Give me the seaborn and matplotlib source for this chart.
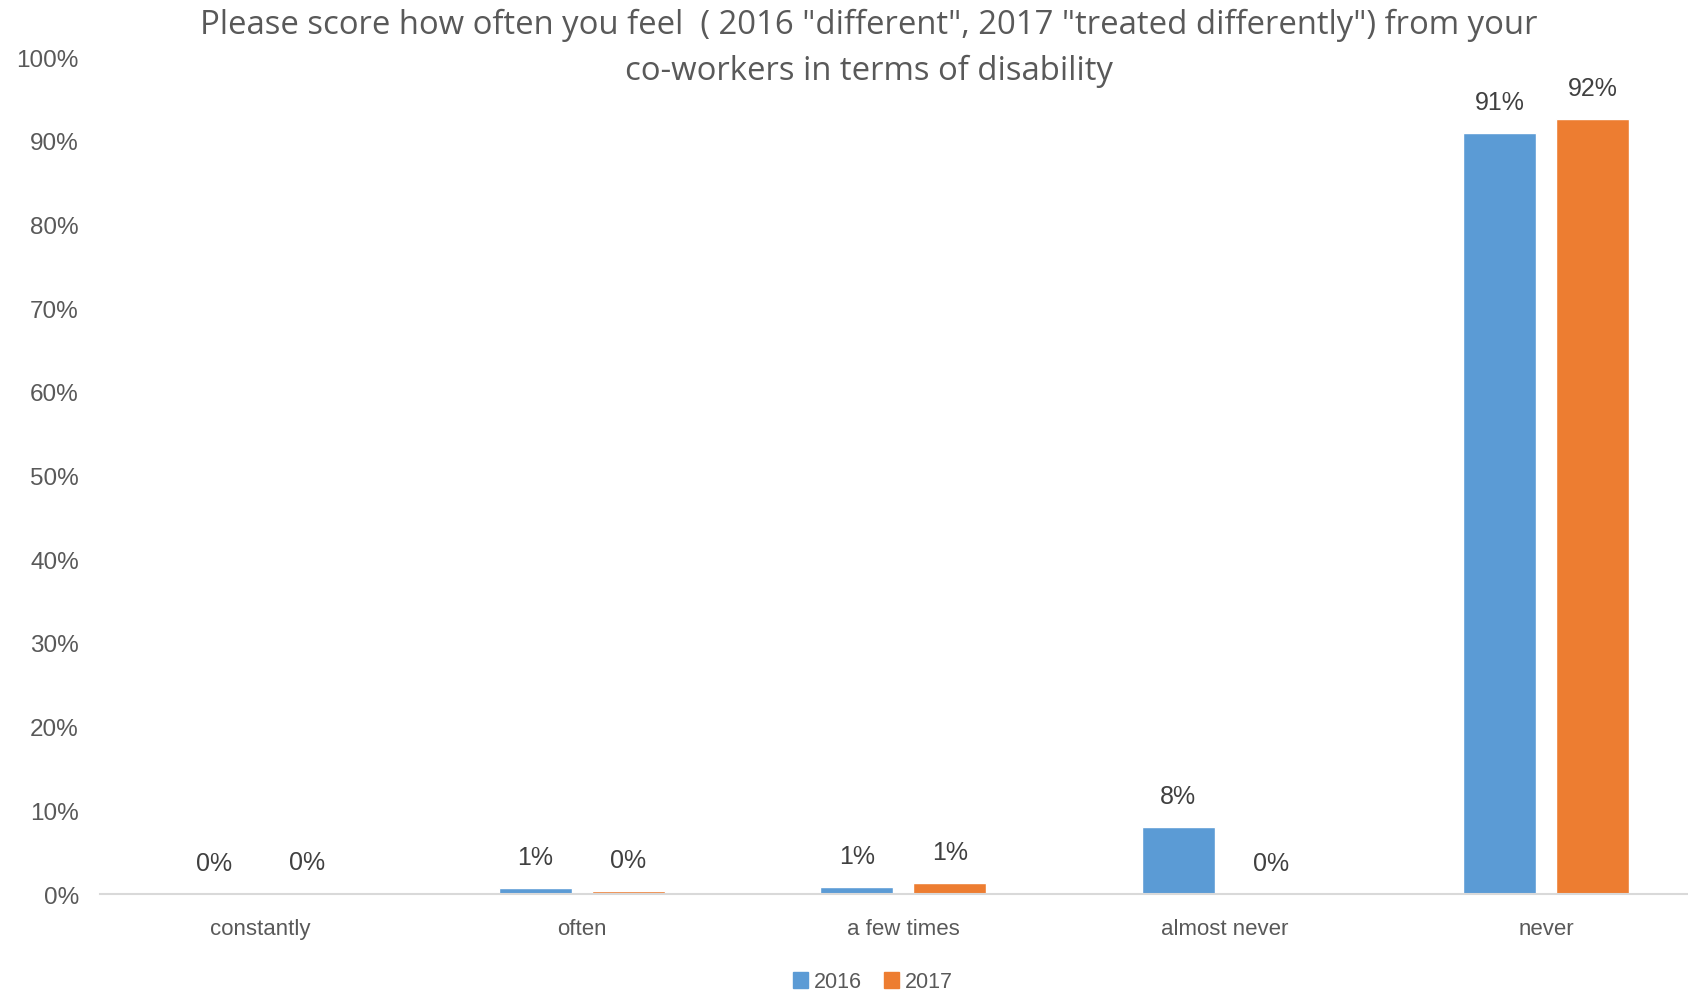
import matplotlib
matplotlib.use("Agg")
import matplotlib.pyplot as plt
import seaborn as sns
import pandas as pd

categories = ["constantly", "often", "a few times", "almost never", "never"]
years = ["2016", "2017"]
values_2016 = [0.0, 0.7, 0.8, 8.0, 90.9]
values_2017 = [0.1, 0.3, 1.3, 0.0, 92.6]
labels_2016 = ["0%", "1%", "1%", "8%", "91%"]
labels_2017 = ["0%", "0%", "1%", "0%", "92%"]
title = 'Please score how often you feel  ( 2016 "different", 2017 "treated differently") from your\nco-workers in terms of disability'
yticks = [0, 10, 20, 30, 40, 50, 60, 70, 80, 90, 100]

df = pd.DataFrame({
    "category": categories * 2,
    "year": [years[0]] * len(categories) + [years[1]] * len(categories),
    "value": values_2016 + values_2017,
})

sns.set_theme(style="white")
plt.rcParams["font.family"] = ["Liberation Sans", "DejaVu Sans"]

palette = {"2016": "#5B9BD5", "2017": "#ED7D31"}
text_grey = "#595959"

fig = plt.figure(figsize=(16.88, 9.95), dpi=100)
ax = fig.add_axes([0.0591, 0.1005, 0.952, 0.8412])

sns.barplot(data=df, x="category", y="value", hue="year", order=categories,
            hue_order=years, palette=palette, width=0.578, gap=0.215,
            saturation=1, ax=ax, legend=False)

ax.set_xlim(-0.5, 4.5)
ax.set_ylim(0, 100)
ax.set_yticks(yticks)
ax.set_yticklabels([f"{t}%" for t in yticks], fontsize=17.5, color=text_grey)
ax.tick_params(axis="x", labelsize=16, labelcolor=text_grey, length=0, pad=17)
ax.tick_params(axis="y", length=0, pad=15)
ax.set_xlabel("")
ax.set_ylabel("")
for side in ["top", "right", "left"]:
    ax.spines[side].set_visible(False)
ax.spines["bottom"].set_color("#D9D9D9")
ax.spines["bottom"].set_linewidth(1.5)

for container, labels in zip(ax.containers, [labels_2016, labels_2017]):
    ax.bar_label(container, labels=labels, padding=14, fontsize=18, color="#404040")

handles = [plt.Rectangle((0, 0), 1, 1, color=palette[y]) for y in years]
fig.legend(handles, years, loc="center", bbox_to_anchor=(873 / 1688, 1 - 983 / 995),
           ncol=2, frameon=False, fontsize=15.5, handlelength=0.7, handleheight=0.7,
           handletextpad=0.3, columnspacing=1.0, labelcolor=text_grey)

fig.text(869 / 1688, 1 - 48.5 / 995, title, ha="center", va="center",
         fontsize=23.7, color=text_grey, family=["Open Sans", "DejaVu Sans"],
         linespacing=1.5)

fig.savefig("out.png", dpi=100, facecolor="white")
